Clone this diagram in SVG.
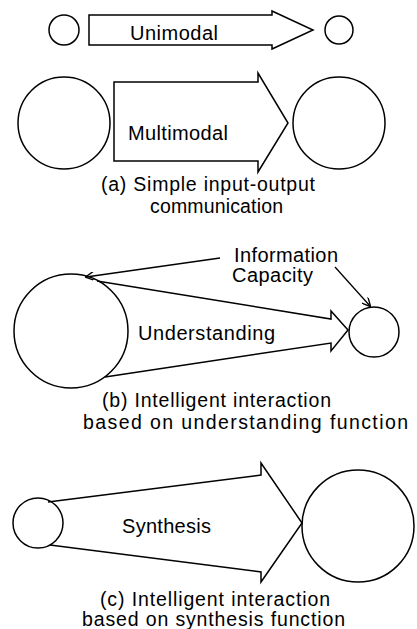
<svg xmlns="http://www.w3.org/2000/svg" width="417" height="629" viewBox="0 0 417 629">
  <style>
    .shape { fill: none; stroke: #000; stroke-width: 1.5; stroke-linejoin: miter; }
    .lbl { font-family: "Liberation Sans", Arial, sans-serif; font-size: 20px; fill: #000; }
    .cap { font-family: "Liberation Sans", Arial, sans-serif; font-size: 19.5px; fill: #000; }
    .ptr { fill: none; stroke: #000; stroke-width: 1.3; }
  </style>
  <defs>
    <marker id="open" viewBox="0 0 10 10" refX="9" refY="5" markerWidth="9" markerHeight="9" markerUnits="userSpaceOnUse" orient="auto">
      <path d="M0,0 L10,5 L0,10" fill="none" stroke="#000" stroke-width="1.5"/>
    </marker>
  </defs>
  <rect width="417" height="629" fill="#fff"/>

  <!-- (a) -->
  <g id="uni-in"><circle class="shape" cx="64" cy="30" r="15"/></g>
  <g id="uni-out"><circle class="shape" cx="339" cy="30" r="14"/></g>
  <g id="multi-in"><circle class="shape" cx="64" cy="123" r="46"/></g>
  <g id="multi-out"><circle class="shape" cx="339" cy="123" r="46"/></g>

  <!-- (b) -->
  <g id="und-in"><circle class="shape" cx="71" cy="331" r="57"/></g>
  <g id="und-out"><circle class="shape" cx="374" cy="332" r="25"/></g>
  <g id="info-cap">
    <text class="lbl" x="234" y="262" textLength="104" lengthAdjust="spacing">Information</text>
    <text class="lbl" x="232" y="282" textLength="81" lengthAdjust="spacing">Capacity</text>
  </g>

  <!-- (c) -->
  <g id="syn-in"><circle class="shape" cx="38" cy="523" r="25"/></g>
  <g id="syn-out"><circle class="shape" cx="358" cy="526" r="56"/></g>

  <g id="connectors">
    <g id="unimodal">
      <polygon class="shape" points="89,15 272,15 272,11 313,30 272,49 272,45 89,45"/>
      <text class="lbl" x="130" y="40" textLength="88" lengthAdjust="spacing">Unimodal</text>
    </g>
    <g id="multimodal">
      <polygon class="shape" points="114,82 258,82 258,73 288,123 258,172 258,161 114,161"/>
      <text class="lbl" x="128" y="140" textLength="100" lengthAdjust="spacing">Multimodal</text>
    </g>
    <g id="understanding">
      <path class="shape" d="M97,281 L331,319 L331,311 L348,330 L331,351 L331,343 L105,377"/>
      <text class="lbl" x="138" y="340" textLength="137" lengthAdjust="spacing">Understanding</text>
    </g>
    <g id="synthesis">
      <path class="shape" d="M48,502 L261,475 L261,463 L302,523 L261,582 L261,572 L50,545"/>
      <text class="lbl" x="122" y="533" textLength="89" lengthAdjust="spacing">Synthesis</text>
    </g>
    <line class="ptr" x1="220" y1="258" x2="86" y2="277" marker-end="url(#open)"/>
    <line class="ptr" x1="335" y1="267" x2="370" y2="306" marker-end="url(#open)"/>
  </g>

  <g id="captions">
    <text class="cap" x="101" y="191" textLength="214" lengthAdjust="spacing">(a) Simple input-output</text>
    <text class="cap" x="150" y="213" textLength="133" lengthAdjust="spacing">communication</text>
    <text class="cap" x="102" y="407" textLength="229" lengthAdjust="spacing">(b) Intelligent interaction</text>
    <text class="cap" x="83" y="429" textLength="325" lengthAdjust="spacing">based on understanding function</text>
    <text class="cap" x="100" y="606" textLength="230" lengthAdjust="spacing">(c) Intelligent interaction</text>
    <text class="cap" x="82" y="626" textLength="263" lengthAdjust="spacing">based on synthesis function</text>
  </g>
</svg>
